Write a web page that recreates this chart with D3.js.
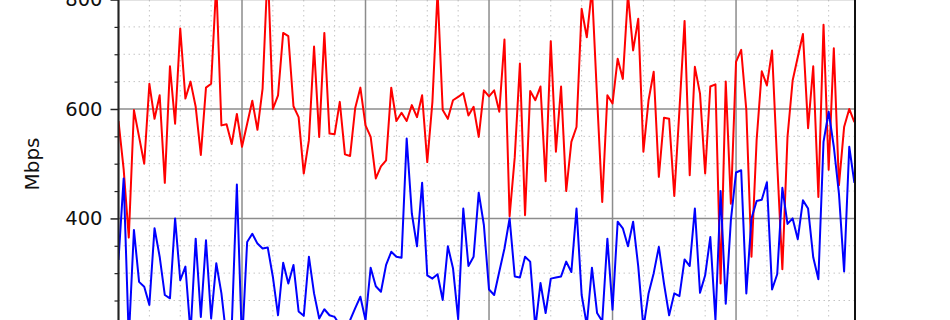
<!DOCTYPE html>
<html>
<head>
<meta charset="utf-8">
<script src="https://cdn.jsdelivr.net/npm/d3@7"></script>
<style>
  body { margin: 0; background: #fff; }
  svg { display: block; font-family: "DejaVu Sans", sans-serif; }
</style>
</head>
<body>
<svg id="chart"></svg>
<script>
// hourly samples, 6 days
const hours = d3.range(0, 144);

const downMbps = [
  578, 490, 365, 598, 549, 500, 646, 582, 625, 465, 678, 573, 747, 619, 650, 604, 516, 639, 646, 830, 570, 572, 536, 591,
  531, 573, 615, 562, 637, 860, 600, 625, 739, 733, 605, 585, 482, 543, 714, 549, 739, 555, 554, 613, 517, 514, 602, 639,
  570, 549, 473, 495, 506, 639, 578, 593, 578, 607, 585, 625, 503, 613, 815, 598, 582, 616, 622, 629, 588, 604, 549, 634,
  623, 634, 595, 727, 404, 512, 683, 406, 633, 616, 641, 468, 724, 522, 641, 450, 540, 567, 783, 731, 820, 620, 430, 625,
  610, 692, 655, 810, 707, 765, 522, 616, 668, 476, 584, 582, 441, 598, 761, 479, 677, 628, 482, 641, 645, 281, 650, 427,
  686, 708, 598, 330, 543, 669, 643, 707, 500, 307, 549, 652, 695, 737, 565, 678, 439, 754, 489, 711, 461, 567, 600, 576
];

const upMbps = [
  324, 473, 180, 379, 284, 275, 242, 382, 330, 260, 254, 400, 287, 312, 190, 363, 220, 360, 217, 318, 263, 180, 200, 462,
  170, 357, 372, 354, 345, 347, 293, 223, 319, 281, 315, 230, 222, 330, 263, 217, 234, 223, 220, 205, 200, 214, 236, 257,
  214, 310, 276, 266, 315, 339, 330, 328, 546, 409, 349, 465, 296, 290, 298, 251, 349, 309, 216, 418, 313, 330, 447, 388,
  270, 260, 303, 345, 400, 294, 292, 330, 321, 200, 282, 227, 290, 292, 294, 321, 302, 418, 260, 205, 310, 227, 212, 363,
  233, 394, 382, 349, 394, 312, 200, 263, 300, 348, 281, 223, 263, 258, 325, 313, 418, 264, 296, 366, 214, 450, 244, 397,
  484, 488, 263, 400, 432, 434, 466, 270, 298, 456, 390, 400, 362, 433, 418, 329, 289, 540, 595, 531, 445, 303, 531, 465
];

const yMajorTicks = [0, 200, 400, 600, 800, 1000];
const yLabelTicks = [400, 600, 800];
const yMinorTicks = d3.range(0, 1001, 50);
const xMajorTicks = d3.range(0, 144, 24);
const xMinorTicks = d3.range(0, 144, 6);

document.addEventListener("DOMContentLoaded", function () {

    // ================================
    // SVG + SCALES
    // ================================
    const width = 950;
    const height = 320;

    const plot = { left: 118.5, right: 855, top: -110, bottom: 437.3 };

    const svg = d3.select("#chart")
        .attr("width", width)
        .attr("height", height);

    const x = d3.scaleLinear()
        .domain([0, 143])
        .range([plot.left, 854.4]);

    const y = d3.scaleLinear()
        .domain([0, 1000])
        .range([437.3, -109.9]);

    svg.append("defs").append("clipPath")
        .attr("id", "plot-clip")
        .append("rect")
        .attr("x", plot.left)
        .attr("y", plot.top)
        .attr("width", plot.right - plot.left)
        .attr("height", plot.bottom - plot.top);

    // ================================
    // GRID
    // ================================
    const grid = svg.append("g");

    grid.selectAll("line.ymin")
        .data(yMinorTicks.filter(d => !yMajorTicks.includes(d)))
        .join("line")
        .attr("x1", plot.left).attr("x2", plot.right)
        .attr("y1", d => y(d)).attr("y2", d => y(d))
        .attr("stroke", "#c4c4c4")
        .attr("stroke-width", 1)
        .attr("stroke-dasharray", "1.5,3.5");

    grid.selectAll("line.xmin")
        .data(xMinorTicks.filter(d => !xMajorTicks.includes(d)))
        .join("line")
        .attr("x1", d => x(d)).attr("x2", d => x(d))
        .attr("y1", plot.top).attr("y2", plot.bottom)
        .attr("stroke", "#c4c4c4")
        .attr("stroke-width", 1)
        .attr("stroke-dasharray", "1.5,3.5");

    grid.selectAll("line.ymaj")
        .data(yMajorTicks)
        .join("line")
        .attr("x1", plot.left).attr("x2", plot.right)
        .attr("y1", d => y(d)).attr("y2", d => y(d))
        .attr("stroke", "#8c8c8c")
        .attr("stroke-width", 1.5);

    grid.selectAll("line.xmaj")
        .data(xMajorTicks)
        .join("line")
        .attr("x1", d => x(d)).attr("x2", d => x(d))
        .attr("y1", plot.top).attr("y2", plot.bottom)
        .attr("stroke", "#8c8c8c")
        .attr("stroke-width", 1.5);

    // ================================
    // LINES
    // ================================
    const lines = svg.append("g").attr("clip-path", "url(#plot-clip)");

    const line = d3.line()
        .x((d, i) => x(hours[i]))
        .y(d => y(d));

    lines.append("path")
        .datum(downMbps)
        .attr("d", line)
        .attr("fill", "none")
        .attr("stroke", "#ff0000")
        .attr("stroke-width", 2)
        .attr("stroke-linejoin", "round");

    lines.append("path")
        .datum(upMbps)
        .attr("d", line)
        .attr("fill", "none")
        .attr("stroke", "#0000ff")
        .attr("stroke-width", 2)
        .attr("stroke-linejoin", "round");

    // ================================
    // AXIS + SPINES
    // ================================
    const yAxis = svg.append("g")
        .attr("transform", `translate(${plot.left},0)`)
        .call(d3.axisLeft(y).tickValues(yLabelTicks).tickSize(8).tickPadding(8).tickFormat(d3.format("d")));

    yAxis.select(".domain").remove();
    yAxis.selectAll(".tick line").attr("stroke", "#222").attr("stroke-width", 1.5);
    yAxis.selectAll(".tick text")
        .attr("font-size", "19.5px")
        .attr("font-family", "DejaVu Sans, sans-serif")
        .attr("fill", "#111");

    svg.append("g")
        .attr("transform", `translate(${plot.left},0)`)
        .call(d3.axisLeft(y).tickValues(yMinorTicks.filter(d => !yMajorTicks.includes(d))).tickSize(4).tickFormat(""))
        .call(g => g.select(".domain").remove())
        .selectAll(".tick line").attr("stroke", "#222").attr("stroke-width", 1.2);

    svg.append("line")
        .attr("x1", plot.left).attr("x2", plot.left)
        .attr("y1", plot.top).attr("y2", plot.bottom)
        .attr("stroke", "#222").attr("stroke-width", 2);

    svg.append("line")
        .attr("x1", plot.right).attr("x2", plot.right)
        .attr("y1", plot.top).attr("y2", plot.bottom)
        .attr("stroke", "#111").attr("stroke-width", 2);

    svg.append("text")
        .attr("transform", `translate(39,164) rotate(-90)`)
        .attr("text-anchor", "middle")
        .attr("font-size", "20px")
        .attr("fill", "#111")
        .text("Mbps");
});
</script>
</body>
</html>
